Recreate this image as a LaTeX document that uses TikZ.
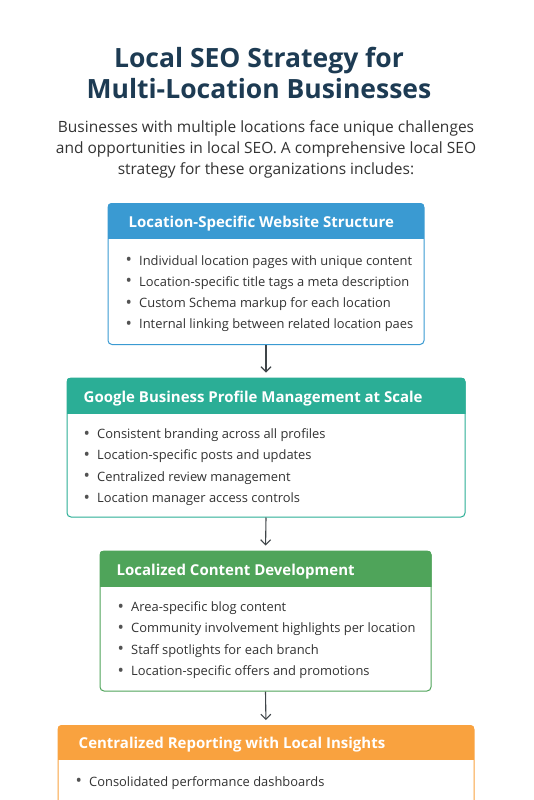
\documentclass[tikz,border=0pt]{standalone}
\usepackage{fontspec}
\setmainfont{Open Sans}
\usetikzlibrary{positioning,arrows.meta}

\definecolor{titlenavy}{HTML}{1D3B53}
\definecolor{bodygray}{HTML}{333333}
\definecolor{arrowgray}{HTML}{3F4549}
\definecolor{webblue}{HTML}{3A9AD2}
\definecolor{gbpteal}{HTML}{2BAE96}
\definecolor{contentgreen}{HTML}{4FA45A}
\definecolor{reportorange}{HTML}{F9A23F}

\newcommand{\itemdot}{\makebox[13.5pt][l]{\textcolor{bodygray!85}{\raisebox{-0.6pt}{\fontsize{17}{17}\selectfont\textbullet}}}}

\tikzset{
  card/.style={draw=#1, line width=1pt, rounded corners=4pt, fill=white},
  headtxt/.style={anchor=west, text=white, font=\fontsize{15}{17}\selectfont\bfseries, inner sep=0pt},
  items/.style={anchor=north west, align=left, text=bodygray, inner sep=0pt,
    font=\fontsize{12.9}{21.3}\selectfont},
  flow/.style={-{Straight Barb[length=5pt,width=10pt]}, line width=1.1pt, arrowgray, shorten >=5pt}
}

\begin{document}
\begin{tikzpicture}[x=1pt, y=-1pt]
  \clip (0,0) rectangle (533,800);
  \fill[white] (0,0) rectangle (533,800);

  % Title and intro
  \node[text=titlenavy, align=center, font=\fontsize{26.5}{31}\selectfont\bfseries] (title) at (259,73)
    {Local SEO Strategy for\\Multi-Location Businesses};
  \node[text=bodygray, align=center, font=\fontsize{15.5}{21}\selectfont] (intro) at (266,149)
    {Businesses with multiple locations face unique challenges\\
     and opportunities in local SEO. A comprehensive local SEO\\
     strategy for these organizations includes:};

  % Step 1
  \node[card=webblue, minimum width=316pt, minimum height=141pt, inner sep=0pt] (web) at (266,274) {};
  \begin{scope}
    \clip[rounded corners=4pt] (web.north west) rectangle (web.south east);
    \fill[webblue] (web.north west) rectangle ([yshift=-36pt]web.north east);
  \end{scope}
  \node[headtxt] (webT) at ([xshift=21pt,yshift=-21pt]web.north west) {Location-Specific Website Structure};
  \node[items] (webL) at ([xshift=18pt,yshift=-52pt]web.north west)
    {\itemdot Individual location pages with unique content\\
     \itemdot Location-specific title tags a meta description\\
     \itemdot Custom Schema markup for each location\\
     \itemdot Internal linking between related location paes};

  % Step 2
  \node[card=gbpteal, minimum width=398pt, minimum height=139pt, inner sep=0pt] (gbp) at (266,447.5) {};
  \begin{scope}
    \clip[rounded corners=4pt] (gbp.north west) rectangle (gbp.south east);
    \fill[gbpteal] (gbp.north west) rectangle ([yshift=-36pt]gbp.north east);
  \end{scope}
  \node[headtxt] (gbpT) at ([xshift=17pt,yshift=-21pt]gbp.north west) {Google Business Profile Management at Scale};
  \node[items] (gbpL) at ([xshift=17pt,yshift=-51pt]gbp.north west)
    {\itemdot Consistent branding across all profiles\\
     \itemdot Location-specific posts and updates\\
     \itemdot Centralized review management\\
     \itemdot Location manager access controls};

  % Step 3
  \node[card=contentgreen, minimum width=331pt, minimum height=140pt, inner sep=0pt] (loc) at (265.5,621) {};
  \begin{scope}
    \clip[rounded corners=4pt] (loc.north west) rectangle (loc.south east);
    \fill[contentgreen] (loc.north west) rectangle ([yshift=-36pt]loc.north east);
  \end{scope}
  \node[headtxt] (locT) at ([xshift=17pt,yshift=-21pt]loc.north west) {Localized Content Development};
  \node[items] (locL) at ([xshift=18pt,yshift=-51pt]loc.north west)
    {\itemdot Area-specific blog content\\
     \itemdot Community involvement highlights per location\\
     \itemdot Staff spotlights for each branch\\
     \itemdot Location-specific offers and promotions};

  % Step 4 (runs off the bottom)
  \node[card=reportorange, minimum width=416pt, minimum height=140pt, inner sep=0pt, anchor=north] (rep) at (266,725) {};
  \begin{scope}
    \clip[rounded corners=4pt] (rep.north west) rectangle (rep.south east);
    \fill[reportorange] (rep.north west) rectangle ([yshift=-35pt]rep.north east);
  \end{scope}
  \node[headtxt] (repT) at ([xshift=21pt,yshift=-20pt]rep.north west) {Centralized Reporting with Local Insights};
  \node[items] (repL) at ([xshift=18pt,yshift=-51pt]rep.north west)
    {\itemdot Consolidated performance dashboards};

  % Connectors
  \draw[flow] (web.south) -- (gbp.north);
  \draw[flow] (gbp.south) -- (loc.north);
  \draw[flow] (loc.south) -- (rep.north);
\end{tikzpicture}
\end{document}
